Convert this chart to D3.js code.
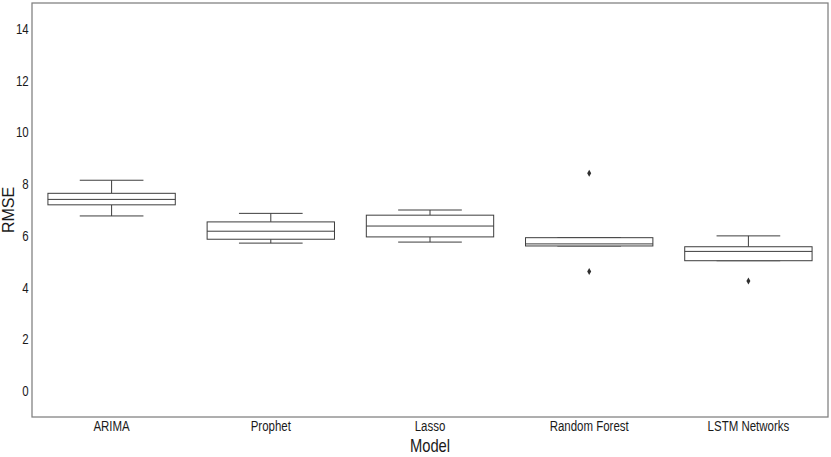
<!DOCTYPE html>
<html>
<head>
<meta charset="utf-8">
<script src="https://cdn.jsdelivr.net/npm/d3@7"></script>
<style>
  html, body { margin: 0; padding: 0; background: #fff; }
  svg { display: block; }
</style>
</head>
<body>
<svg id="chart" width="831" height="457"></svg>
<script>
const models = ["ARIMA", "Prophet", "Lasso", "Random Forest", "LSTM Networks"];
const whiskerLow  = [6.77, 5.72, 5.76, 5.61, 5.04];
const q1          = [7.20, 5.87, 5.96, 5.61, 5.04];
const median      = [7.41, 6.18, 6.38, 5.69, 5.40];
const q3          = [7.645, 6.54, 6.80, 5.93, 5.58];
const whiskerHigh = [8.15, 6.87, 7.00, 5.93, 6.00];
const outlierModel = ["Random Forest", "Random Forest", "LSTM Networks"];
const outlierValue = [8.42, 4.62, 4.26];
const yTicks = [0, 2, 4, 6, 8, 10, 12, 14];

(function () {
const svg = d3.select("#chart");
const pL = 32, pR = 828, pT = 3, pB = 417;

const x = d3.scaleBand().domain(models).range([pL, pR]).paddingInner(0).paddingOuter(0);
const y = d3.scaleLinear().domain([-1, 15]).range([pB, pT]);

const lineColor = "#3d3d3d";
const bw = x.bandwidth() * 0.8;
const capW = bw * 0.5;

const boxes = models.map((m, i) => ({
  m, wl: whiskerLow[i], q1: q1[i], med: median[i], q3: q3[i], wh: whiskerHigh[i]
}));

const g = svg.append("g");
const bg = g.selectAll("g.box").data(boxes).join("g").attr("class", "box");
const cx = d => x(d.m) + x.bandwidth() / 2;

// whisker stems
bg.append("line").attr("x1", cx).attr("x2", cx)
  .attr("y1", d => y(d.q3)).attr("y2", d => y(d.wh))
  .attr("stroke", lineColor).attr("stroke-width", 1);
bg.append("line").attr("x1", cx).attr("x2", cx)
  .attr("y1", d => y(d.q1)).attr("y2", d => y(d.wl))
  .attr("stroke", lineColor).attr("stroke-width", 1);
// caps
bg.append("line").attr("x1", d => cx(d) - capW / 2).attr("x2", d => cx(d) + capW / 2)
  .attr("y1", d => y(d.wh)).attr("y2", d => y(d.wh))
  .attr("stroke", lineColor).attr("stroke-width", 1);
bg.append("line").attr("x1", d => cx(d) - capW / 2).attr("x2", d => cx(d) + capW / 2)
  .attr("y1", d => y(d.wl)).attr("y2", d => y(d.wl))
  .attr("stroke", lineColor).attr("stroke-width", 1);
// boxes
bg.append("rect")
  .attr("x", d => cx(d) - bw / 2).attr("width", bw)
  .attr("y", d => y(d.q3)).attr("height", d => y(d.q1) - y(d.q3))
  .attr("fill", "#fff").attr("stroke", lineColor).attr("stroke-width", 1);
// medians
bg.append("line").attr("x1", d => cx(d) - bw / 2).attr("x2", d => cx(d) + bw / 2)
  .attr("y1", d => y(d.med)).attr("y2", d => y(d.med))
  .attr("stroke", lineColor).attr("stroke-width", 1);

// outliers (thin diamonds)
const outliers = outlierModel.map((m, i) => ({ m, v: outlierValue[i] }));
g.selectAll("path.out").data(outliers).join("path").attr("class", "out")
  .attr("transform", d => `translate(${cx(d)},${y(d.v)})`)
  .attr("d", "M0,-3.5L2,0L0,3.5L-2,0Z")
  .attr("fill", "#2f2f2f");

// frame
svg.append("rect").attr("x", pL).attr("y", pT)
  .attr("width", pR - pL).attr("height", pB - pT)
  .attr("fill", "none").attr("stroke", "#7f7f7f").attr("stroke-width", 1.25);

// axes (condensed look via horizontal scaling)
const font = "'Liberation Sans', Arial, sans-serif";
const squeeze = "scale(0.82,1)";
const yAxis = svg.append("g").attr("transform", `translate(${pL},0)`)
  .call(d3.axisLeft(y).tickValues(yTicks).tickSize(0).tickPadding(4));
yAxis.select(".domain").remove();
yAxis.selectAll("text").attr("font-family", font).attr("font-size", 14)
  .attr("fill", "#1a1a1a").attr("transform", squeeze);

const xAxis = svg.append("g").attr("transform", `translate(0,${pB})`)
  .call(d3.axisBottom(x).tickSize(0).tickPadding(4));
xAxis.select(".domain").remove();
xAxis.selectAll("text").attr("font-family", font).attr("font-size", 14)
  .attr("fill", "#1a1a1a").attr("transform", squeeze);

svg.append("text").attr("transform", `translate(${(pL + pR) / 2},452) scale(0.82,1)`)
  .attr("text-anchor", "middle").attr("font-family", font).attr("font-size", 18)
  .attr("fill", "#1a1a1a").text("Model");

svg.append("text").attr("transform", `translate(14,${(pT + pB) / 2}) rotate(-90)`)
  .attr("text-anchor", "middle").attr("font-family", font)
  .attr("font-size", 16).attr("fill", "#1a1a1a").text("RMSE");
})();
</script>
</body>
</html>
